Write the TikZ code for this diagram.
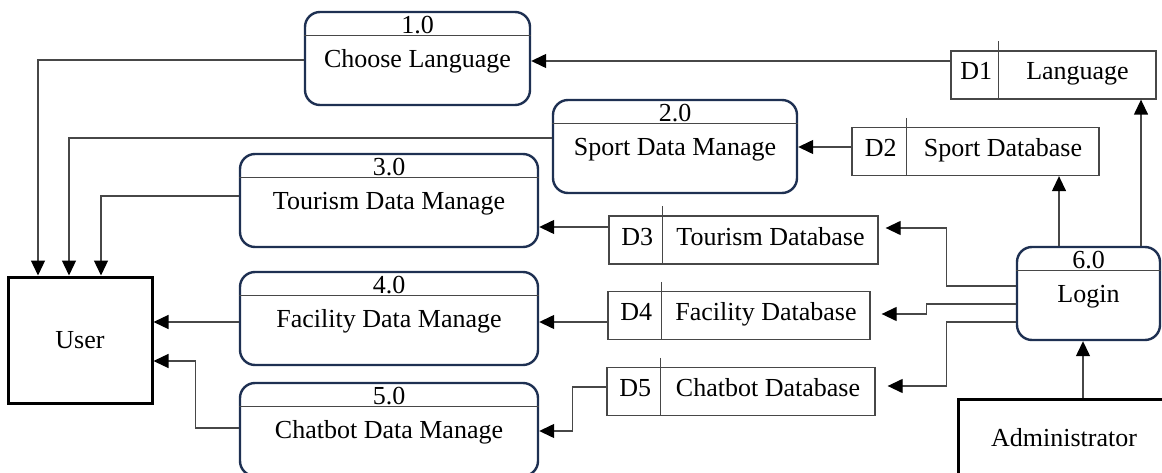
\documentclass[tikz,border=0pt]{standalone}
\usepackage{fontspec}
\setmainfont{Liberation Serif}
\usetikzlibrary{calc,arrows.meta}
\definecolor{colorProc}{RGB}{30,48,82}
\colorlet{colorFlow}{black!72}
\colorlet{colorEnt}{black}
\tikzset{
   every path/.style={>={Triangle[length=15pt,width=14pt,color=black]}},
   txt/.style={font=\fontsize{26}{30}\selectfont,inner sep=0pt},
   proc/.style={draw=colorProc,line width=2.4pt,rounded corners=15pt,minimum height=93pt},
   procline/.style={draw=colorFlow,line width=1.3pt},
   store/.style={draw=colorFlow,line width=1.3pt,minimum height=48pt},
   ent/.style={draw=colorEnt,line width=3pt,font=\fontsize{26}{30}\selectfont},
   flow/.style={->,draw=colorFlow,line width=1.3pt},
}
\begin{document}
\begin{tikzpicture}[x=1pt,y=-1pt]
  \fill[white] (0,0) rectangle (1162,473);
  \useasboundingbox (0,0) rectangle (1162,473);

  % processes
  \node[proc, minimum width=225pt] (p1) at (417.5,58.5) {};
  \node[proc, minimum width=244pt] (p2) at (675,146.5) {};
  \node[proc, minimum width=298pt] (p3) at (389,200.5) {};
  \node[proc, minimum width=298pt] (p4) at (389,318.5) {};
  \node[proc, minimum width=298pt] (p5) at (389,429.5) {};
  \node[proc, minimum width=143pt] (p6) at (1088.5,293.5) {};

  \foreach \p/\n/\t in {p1/1.0/Choose Language, p2/2.0/Sport Data Manage,
      p3/3.0/Tourism Data Manage, p4/4.0/Facility Data Manage,
      p5/5.0/Chatbot Data Manage, p6/6.0/Login} {
    \draw[procline] ($(\p.north west)+(0,25)$) -- ($(\p.north east)+(0,25)$);
    \node[txt, anchor=base] (\p num) at ($(\p.north)+(0,23)$) {\n};
    \node[txt, anchor=base] (\p lbl) at ($(\p.north)+(0,57)$) {\t};
  }

  % data stores
  \node[store, minimum width=205pt] (s1) at (1053.5,75) {};
  \node[store, minimum width=247pt] (s2) at (975.5,151.5) {};
  \node[store, minimum width=269pt] (s3) at (743.5,240) {};
  \node[store, minimum width=262pt] (s4) at (739,315.5) {};
  \node[store, minimum width=268pt] (s5) at (741,391.5) {};

  \foreach \s/\w/\id/\t in {s1/48/D1/Language, s2/55/D2/Sport Database,
      s3/54/D3/Tourism Database, s4/54/D4/Facility Database,
      s5/54/D5/Chatbot Database} {
    \draw[procline] ($(\s.north west)+(\w,-9)$) -- ($(\s.south west)+(\w,0)$);
    \node[txt, anchor=base] (\s id) at ($(\s.west)+(\w/2+2,5)$) {\id};
    \node[txt, anchor=base] (\s lbl) at ($(\s.west)!.5!(\s.east)+(\w/2,5)$) {\t};
  }

  % external entities
  \node[ent, minimum width=144pt, minimum height=126pt] (user) at (80,340) {User};
  \node[ent, minimum width=212pt, minimum height=78pt] (admin) at (1064,438) {Administrator};

  % stores to processes
  \draw[flow] (s1.west |- 0,61) -- (p1.east |- 0,61);
  \draw[flow] (s2.west |- 0,147) -- (p2.east |- 0,147);
  \draw[flow] (s3.west |- 0,227) -- (p3.east |- 0,227);
  \draw[flow] (s4.west |- 0,322) -- (p4.east |- 0,322);
  \draw[flow] (s5.west |- 0,387) -- ++(-34,0) |- (p5.east |- 0,431);

  % processes to user
  \draw[flow] (p1.west |- 0,60) -| ($(user.north)+(-42,0)$);
  \draw[flow] (p2.west |- 0,138) -| ($(user.north)+(-11,0)$);
  \draw[flow] (p3.west |- 0,196) -| ($(user.north)+(21,0)$);
  \draw[flow] (p4.west |- 0,322) -- (user.east |- 0,322);
  \draw[flow] (p5.west |- 0,428) -- ++(-43,0) |- (user.east |- 0,361);

  % login to stores
  \draw[flow] (p6.west |- 0,286) -- ++(-69,0) |- ($(s3.east |- 0,228)+(7,0)$);
  \draw[flow] (p6.west |- 0,304) -- ++(-89,0) |- ($(s4.east |- 0,314)+(11,0)$);
  \draw[flow] (p6.west |- 0,322) -- ++(-69,0) |- ($(s5.east |- 0,386)+(12,0)$);
  \coordinate (l2) at ($(p6.north)+(-29.5,0)$);
  \coordinate (l1) at ($(p6.north)+(52.5,0)$);
  \draw[flow] (l2) -- (l2 |- s2.south);
  \draw[flow] (l1) -- (l1 |- s1.south);

  % administrator to login
  \coordinate (la) at ($(p6.south)+(-5.5,0)$);
  \draw[flow] (admin.north -| la) -- (la);
\end{tikzpicture}
\end{document}
